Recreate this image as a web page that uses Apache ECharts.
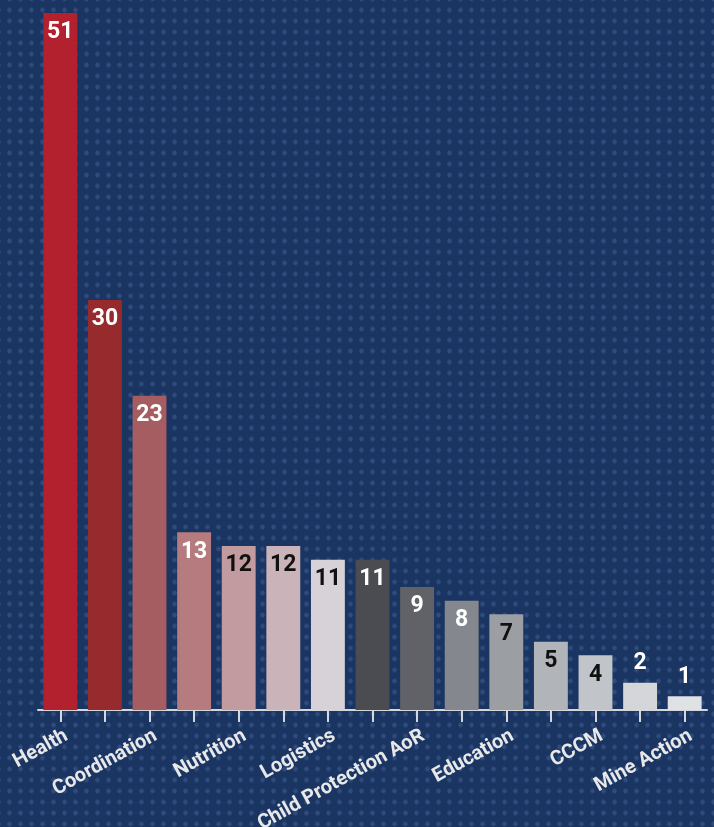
<!DOCTYPE html>
<html>
<head>
<meta charset="utf-8">
<script src="https://cdn.jsdelivr.net/npm/echarts@6/dist/echarts.min.js"></script>
<style>
html,body{margin:0;padding:0;}
#chart{width:714px;height:827px;background-color:#1b3563;
background-image:radial-gradient(circle, #304c7d 1.9px, rgba(48,76,125,0) 2.5px);
background-size:11px 11px;background-position:4px 4.5px;}
</style>
</head>
<body>
<div id="chart"></div>
<script>
const categories = ["Health","Protection","Coordination","Food Security","Nutrition","WASH","Logistics","Shelter & NFI","Child Protection AoR","GBV AoR","Education","Early Recovery","CCCM","ETC","Mine Action"];
const values = [51,30,23,13,12,12,11,11,9,8,7,5,4,2,1];
const barColors = ["#b3202e","#972a2c","#a65d61","#b57b7e","#c19b9f","#cab4b9","#d6d2d7","#4b4c51","#606267","#84878d","#9b9ea3","#b1b4b8","#c1c4c8","#d4d6d9","#e0e1e4"];
const labelColors = ["#fff","#fff","#fff","#fff","#111","#111","#111","#fff","#fff","#fff","#111","#111","#111","#fff","#fff"];
const labelInside = [true,true,true,true,true,true,true,true,true,true,true,true,true,false,false];

const font = '"Roboto", sans-serif';
const chart = echarts.init(document.getElementById('chart'), null, {renderer:'canvas'});
chart.setOption({
  backgroundColor: 'transparent',
  animation: false,
  grid: {left: 38, right: 7, top: 13, bottom: 117, containLabel: false, outerBoundsMode: 'none'},
  xAxis: {
    type: 'category',
    data: categories,
    axisLine: {lineStyle: {color: '#d5d7da', width: 2}},
    axisTick: {show: true, interval: 0, alignWithLabel: true, length: 12, lineStyle: {color: '#d5d7da', width: 2}},
    axisLabel: {interval: 1, rotate: 29, margin: 28, padding: [0, -7, 0, 0], color: '#e8e8e8', fontSize: 20, fontWeight: 'bold', fontFamily: font}
  },
  yAxis: {type: 'value', min: 0, max: 51, show: false, splitLine: {show: false}},
  series: [{
    type: 'bar',
    barCategoryGap: '24%',
    data: values.map((v, i) => ({
      value: v,
      itemStyle: {color: barColors[i]},
      label: {
        show: true,
        position: labelInside[i] ? 'insideTop' : 'top',
        distance: 8,
        color: labelColors[i],
        fontSize: 23,
        fontWeight: 'bold',
        fontFamily: font
      }
    }))
  }]
});
</script>
</body>
</html>
